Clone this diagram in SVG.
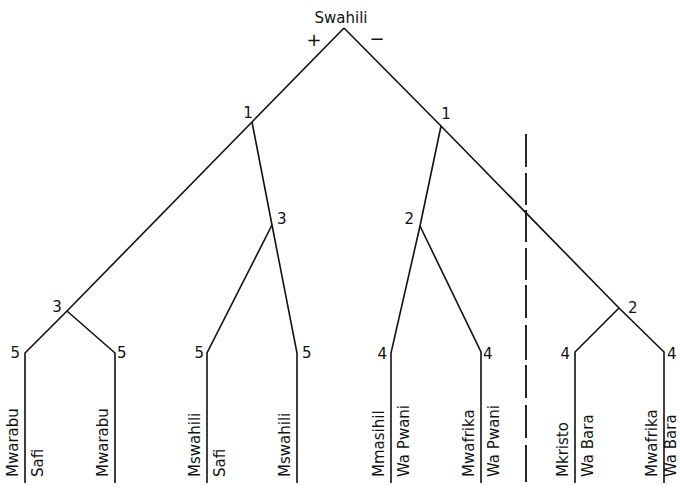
<svg xmlns="http://www.w3.org/2000/svg" width="680" height="488" viewBox="0 0 680 488">
<style>
  text { font-family: "DejaVu Sans", "Liberation Sans", sans-serif; font-size: 15px; fill: #111; }
  .sign { font-size: 18px; }
  .edge { fill: none; stroke: #111; stroke-width: 1.6; stroke-linejoin: miter; }
  .dash { fill: none; stroke: #111; stroke-width: 1.8; }
</style>
<rect width="680" height="488" fill="#fff"/>
<g id="connectors">
  <polyline class="edge" points="344,28 252,122 67,311 25,353 25,483"/>
  <polyline class="edge" points="67,311 115,353 115,483"/>
  <polyline class="edge" points="252,122 272,225 297,353 297,483"/>
  <polyline class="edge" points="272,225 207,353 207,483"/>
  <polyline class="edge" points="344,28 441,126 619,308 664,352 664,483"/>
  <polyline class="edge" points="441,126 420,226 391,353 391,483"/>
  <polyline class="edge" points="420,226 481,352 481,483"/>
  <polyline class="edge" points="619,308 575,352 575,483"/>
  <path class="dash" d="M526,134V167M526,173V205M526,210V242M526,248V280M526,285V318M526,325V360M526,365V398M526,405V438M526,445V482"/>
</g>
<g id="root">
  <text x="341" y="23" text-anchor="middle">Swahili</text>
  <text class="sign" x="314" y="45.5" text-anchor="middle">+</text>
  <text class="sign" x="377" y="44.5" text-anchor="middle">−</text>
</g>
<g id="n1-left"><text x="248" y="118" text-anchor="middle">1</text></g>
<g id="n1-right"><text x="446" y="119" text-anchor="middle">1</text></g>
<g id="n3-left"><text x="57" y="312" text-anchor="middle">3</text></g>
<g id="n3-mid"><text x="277" y="224">3</text></g>
<g id="n2-mid"><text x="414" y="224" text-anchor="end">2</text></g>
<g id="n2-right"><text x="628" y="313">2</text></g>
<g id="leaf1">
  <text x="20" y="358" text-anchor="end">5</text>
  <text transform="translate(18,477) rotate(-90)">Mwarabu</text>
  <text transform="translate(43,477) rotate(-90)">Safi</text>
</g>
<g id="leaf2">
  <text x="117" y="358">5</text>
  <text transform="translate(108,477) rotate(-90)">Mwarabu</text>
</g>
<g id="leaf3">
  <text x="204" y="358" text-anchor="end">5</text>
  <text transform="translate(200,477) rotate(-90)">Mswahili</text>
  <text transform="translate(225,477) rotate(-90)">Safi</text>
</g>
<g id="leaf4">
  <text x="302" y="358">5</text>
  <text transform="translate(290,477) rotate(-90)">Mswahili</text>
</g>
<g id="leaf5">
  <text x="387" y="359" text-anchor="end">4</text>
  <text transform="translate(384,477) rotate(-90)">Mmasihil</text>
  <text transform="translate(409,477) rotate(-90)">Wa Pwani</text>
</g>
<g id="leaf6">
  <text x="483" y="359">4</text>
  <text transform="translate(474,477) rotate(-90)">Mwafrika</text>
  <text transform="translate(499,477) rotate(-90)">Wa Pwani</text>
</g>
<g id="leaf7">
  <text x="570" y="359" text-anchor="end">4</text>
  <text transform="translate(568,477) rotate(-90)">Mkristo</text>
  <text transform="translate(593,477) rotate(-90)">Wa Bara</text>
</g>
<g id="leaf8">
  <text x="667" y="359">4</text>
  <text transform="translate(657,477) rotate(-90)">Mwafrika</text>
  <text transform="translate(676,477) rotate(-90)">Wa Bara</text>
</g>
</svg>
